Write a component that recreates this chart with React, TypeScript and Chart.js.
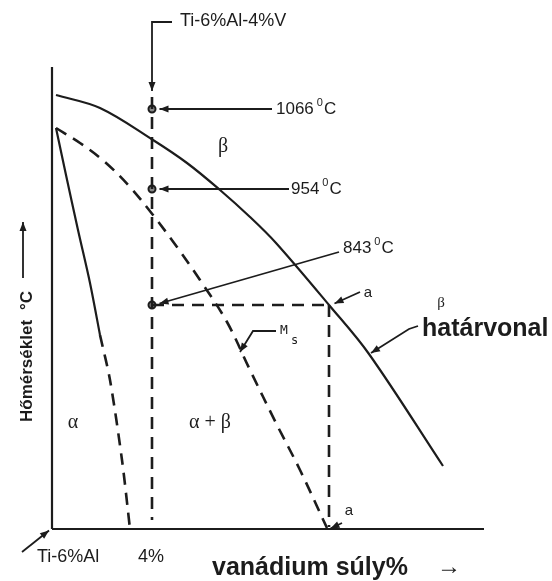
import React, { useEffect, useRef } from "react";
import { Chart, registerables } from "chart.js";

Chart.register(...registerables);

// x: vanadium weight %, y: schematic (relative) temperature 0..100
const betaTransusX = [0.16, 1.92, 4.04, 5.4, 6.72, 7.92, 8.96, 11.08, 12.68, 15.64];
const betaTransusY = [86.8, 84.2, 77.8, 73.2, 67.8, 62.4, 57.2, 44.8, 35.0, 12.6];

const msX = [0.16, 1.12, 2.12, 3.12, 4.04, 5.0, 5.92, 7.0, 7.92, 8.96, 9.92, 11.0];
const msY = [80.2, 77.2, 73.4, 68.4, 62.8, 56.4, 49.8, 41.4, 31.8, 21.2, 11.8, 0.2];

const alphaSolidX = [0.16, 0.56, 1.04, 1.52, 1.92];
const alphaSolidY = [80.2, 70.8, 59.8, 49.2, 38.8];
const alphaDashedX = [1.92, 2.32, 2.8, 3.12];
const alphaDashedY = [38.8, 29.8, 13.8, 0];

const alloyV = 4.0; // Ti-6%Al-4%V
const alloyTop = 86.4;
const alloyBottom = 1.8;

const tempLabels = ["1066", "954", "843"];
const tempY = [84, 68, 44.8];
const tempLabelX = [8.96, 9.56, 11.64];
const tempLabelY = [84, 68, 56.2];

const intersectV = 11.08; // "a"

const axisXMax = 17.28;
const axisYMax = 92.4;

const INK = "#1c1c1c";
const SANS = "'Liberation Sans', Arial, sans-serif";
const SERIF = "'Liberation Serif', 'DejaVu Serif', serif";

type Pt = [number, number];
const arrows: Pt[][] = [
  [[4.8, 101.4], [alloyV, 101.4], [alloyV, 87.6]],
  [[8.8, 84], [4.3, 84]],
  [[9.48, 68], [4.3, 68]],
  [[11.48, 55.4], [4.3, 45.1]],
  [[8.96, 39.6], [8.04, 39.6], [7.52, 35.4]],
  [[12.32, 47.4], [11.3, 45.1]],
  [[11.6, 1.2], [11.14, 0.1]],
  [[14.64, 40.6], [14.28, 40], [12.76, 35.2]],
  [[-1.16, 50.2], [-1.16, 61.4]],
  [[-1.2, -4.6], [-0.12, -0.3]],
];

type Txt = { t: string; x: number; y: number; font: string; align?: CanvasTextAlign };
const texts: Txt[] = [
  { t: "Ti-6%Al-4%V", x: 5.12, y: 101.6, font: `18px ${SANS}` },
  { t: "β", x: 6.84, y: 76.4, font: `20px ${SERIF}`, align: "center" },
  { t: "β", x: 15.56, y: 45.2, font: `15px ${SERIF}`, align: "center" },
  { t: "α", x: 0.84, y: 21.2, font: `20px ${SERIF}`, align: "center" },
  { t: "α + β", x: 6.32, y: 21.2, font: `20px ${SERIF}`, align: "center" },
  { t: "a", x: 12.64, y: 47.2, font: `15px ${SANS}`, align: "center" },
  { t: "a", x: 11.88, y: 3.6, font: `15px ${SANS}`, align: "center" },
  { t: "határvonal", x: 14.8, y: 40, font: `bold 25px ${SANS}` },
  { t: "vanádium súly%", x: 6.4, y: -7.8, font: `bold 25px ${SANS}` },
  { t: "→", x: 15.4, y: -7.6, font: `24px ${SANS}` },
  { t: "Ti-6%Al", x: -0.6, y: -5.6, font: `18px ${SANS}` },
  { t: "4%", x: 3.44, y: -5.6, font: `18px ${SANS}` },
];

const overlayPlugin = {
  id: "overlay",
  afterDatasetsDraw(chart: any) {
    const ctx: CanvasRenderingContext2D = chart.ctx;
    const xs = chart.scales.x;
    const ys = chart.scales.y;
    const px = (v: number) => xs.getPixelForValue(v);
    const py = (v: number) => ys.getPixelForValue(v);
    ctx.save();
    ctx.strokeStyle = INK;
    ctx.fillStyle = INK;
    ctx.lineWidth = 1.8;
    ctx.setLineDash([]);
    for (const a of arrows) {
      ctx.beginPath();
      a.forEach(([x, y], i) => (i ? ctx.lineTo(px(x), py(y)) : ctx.moveTo(px(x), py(y))));
      ctx.stroke();
      const [x1, y1] = a[a.length - 2];
      const [x2, y2] = a[a.length - 1];
      const ax = px(x2), ay = py(y2);
      const ang = Math.atan2(ay - py(y1), ax - px(x1));
      const L = 9, W = 3.5;
      ctx.beginPath();
      ctx.moveTo(ax, ay);
      ctx.lineTo(ax - L * Math.cos(ang) + W * Math.sin(ang), ay - L * Math.sin(ang) - W * Math.cos(ang));
      ctx.lineTo(ax - L * Math.cos(ang) - W * Math.sin(ang), ay - L * Math.sin(ang) + W * Math.cos(ang));
      ctx.closePath();
      ctx.fill();
    }
    ctx.textBaseline = "middle";
    for (const t of texts) {
      ctx.font = t.font;
      ctx.textAlign = t.align || "left";
      ctx.fillText(t.t, px(t.x), py(t.y));
    }
    ctx.textAlign = "left";
    tempLabels.forEach((lab, i) => {
      const x0 = px(tempLabelX[i]);
      const y0 = py(tempLabelY[i]);
      ctx.font = `17px ${SANS}`;
      ctx.fillText(lab, x0, y0);
      let w = ctx.measureText(lab).width + 3;
      ctx.font = `11px ${SANS}`;
      ctx.fillText("0", x0 + w, y0 - 6);
      w += ctx.measureText("0").width + 1;
      ctx.font = `17px ${SANS}`;
      ctx.fillText("C", x0 + w, y0);
    });
    ctx.font = `13px 'DejaVu Sans Mono', monospace`;
    ctx.fillText("M", px(9.12), py(39.6));
    ctx.font = `12px 'DejaVu Sans Mono', monospace`;
    ctx.fillText("s", px(9.12) + 11, py(39.6) + 10);
    ctx.save();
    ctx.translate(27, py(21.4));
    ctx.rotate(-Math.PI / 2);
    ctx.font = `bold 17px ${SANS}`;
    ctx.fillText("Hőmérséklet", 0, 0);
    ctx.fillText("°C", ctx.measureText("Hőmérséklet").width + 10, 0);
    ctx.restore();
    ctx.restore();
  },
};

const line = (xsArr: number[], ysArr: number[]) => xsArr.map((x, i) => ({ x, y: ysArr[i] }));

export default function App() {
  const ref = useRef<HTMLCanvasElement | null>(null);
  useEffect(() => {
    if (!ref.current) return;
    const solid = { showLine: true, pointRadius: 0, borderColor: INK, borderWidth: 2.2, tension: 0.35, clip: false as const };
    const dashed = { ...solid, borderDash: [12, 8], borderWidth: 2.6 };
    const chart = new Chart(ref.current, {
      type: "scatter",
      data: {
        datasets: [
          { label: "β határvonal", data: line(betaTransusX, betaTransusY), ...solid },
          { label: "Ms", data: line(msX, msY), ...dashed },
          { label: "α", data: line(alphaSolidX, alphaSolidY), ...solid, tension: 0.3 },
          { label: "α'", data: line(alphaDashedX, alphaDashedY), ...dashed, tension: 0.3 },
          { label: "4% V", data: [{ x: alloyV, y: alloyTop }, { x: alloyV, y: alloyBottom }], ...dashed, tension: 0 },
          { label: "843", data: [{ x: alloyV, y: tempY[2] }, { x: intersectV, y: tempY[2] }], ...dashed, tension: 0 },
          { label: "a", data: [{ x: intersectV, y: tempY[2] }, { x: intersectV, y: 0.4 }], ...dashed, tension: 0 },
          { label: "y axis", data: [{ x: 0, y: 0 }, { x: 0, y: axisYMax }], ...solid, tension: 0 },
          { label: "x axis", data: [{ x: 0, y: 0 }, { x: axisXMax, y: 0 }], ...solid, tension: 0 },
          {
            label: "temps",
            data: tempY.map((y) => ({ x: alloyV, y })),
            showLine: false,
            pointRadius: 3.5,
            pointBorderWidth: 2,
            pointBorderColor: INK,
            pointBackgroundColor: "#888",
            clip: false as const,
          },
        ],
      },
      options: {
        animation: false,
        responsive: false,
        events: [],
        layout: { padding: { left: 52, right: 50, top: 29, bottom: 52 } },
        plugins: { legend: { display: false }, tooltip: { enabled: false } },
        scales: {
          x: { type: "linear", min: 0, max: 18, display: false },
          y: { type: "linear", min: 0, max: 100, display: false },
        },
      },
      plugins: [overlayPlugin],
    });
    return () => chart.destroy();
  }, []);
  return (
    <div style={{ position: "fixed", left: 0, top: 0, width: 552, height: 581, background: "#fff" }}>
      <canvas ref={ref} width={552} height={581} style={{ display: "block" }} />
    </div>
  );
}
